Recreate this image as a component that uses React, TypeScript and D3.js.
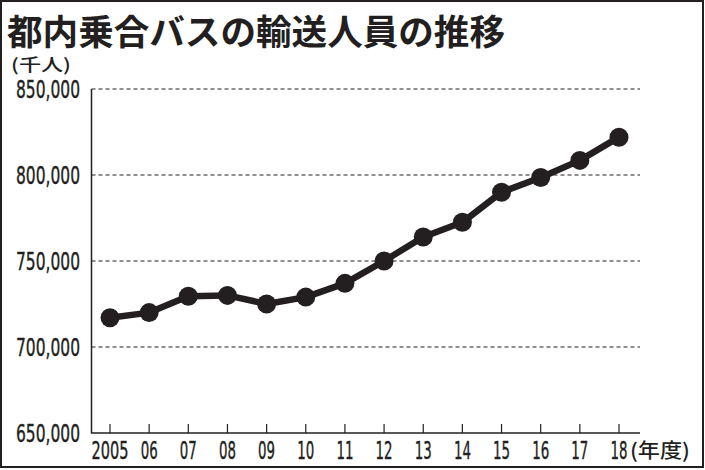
import React from "react";
import * as d3 from "d3";

const years = ["2005", "06", "07", "08", "09", "10", "11", "12", "13", "14", "15", "16", "17", "18"];
const riders = [717000, 720000, 729500, 730000, 725000, 729000, 737000, 750000, 764000, 772500, 790000, 798500, 808500, 822000];
const yTicks = [650000, 700000, 750000, 800000, 850000];

const W = 705;
const H = 470;
const INK = "#231f20";

export default function App() {
  const left = 91.5;
  const right = 640;
  const top = 89;
  const bottom = 433;
  const x = d3.scalePoint<string>().domain(years).range([110, 619]);
  const y = d3.scaleLinear().domain([650000, 850000]).range([bottom, top]);
  const fmt = d3.format(",");
  const line = d3
    .line<number>()
    .x((_, i) => x(years[i]) as number)
    .y((d) => y(d));
  const numFont = "'Liberation Sans Narrow', 'DejaVu Sans Condensed', 'Liberation Sans', Arial, sans-serif";
  const jpFont = "'Noto Sans CJK JP', 'Noto Sans', sans-serif";

  return (
    <svg
      width={W}
      height={H}
      viewBox={`0 0 ${W} ${H}`}
      style={{ position: "fixed", left: 0, top: 0, background: "#fff" }}
    >
      <rect x={0} y={0} width={W} height={H} fill="#fff" />
      <rect x={1} y={1} width={702} height={466} fill="none" stroke={INK} strokeWidth={2} />
      <text x={7} y={45} fontFamily={jpFont} fontWeight={700} fontSize={35.5} fill={INK} textLength={498} lengthAdjust="spacingAndGlyphs">
        都内乗合バスの輸送人員の推移
      </text>
      <text x={11} y={71} fontFamily={jpFont} fontWeight={500} fontSize={17} fill={INK} textLength={60} lengthAdjust="spacingAndGlyphs">
        (千人)
      </text>
      {yTicks.slice(1).map((t) => (
        <line key={t} x1={left} x2={right} y1={y(t)} y2={y(t)} stroke={INK} strokeWidth={1} strokeDasharray="4 3" />
      ))}
      {yTicks.map((t) => (
        <text
          key={"l" + t}
          x={80}
          y={y(t) + 9}
          textAnchor="end"
          fontFamily={numFont}
          fontSize={25}
          fill={INK}
          stroke={INK}
          strokeWidth={0.4}
          textLength={64}
          lengthAdjust="spacingAndGlyphs"
        >
          {fmt(t)}
        </text>
      ))}
      <line x1={left} x2={left} y1={top} y2={bottom + 0.5} stroke={INK} strokeWidth={1.5} />
      <line x1={left} x2={right} y1={bottom} y2={bottom} stroke={INK} strokeWidth={1.5} />
      {years.map((yr) => (
        <line key={"t" + yr} x1={x(yr)} x2={x(yr)} y1={bottom} y2={bottom - 9} stroke={INK} strokeWidth={1.2} />
      ))}
      {years.map((yr) => (
        <text
          key={"x" + yr}
          x={x(yr)}
          y={459}
          textAnchor="middle"
          fontFamily={numFont}
          fontSize={25}
          fill={INK}
          stroke={INK}
          strokeWidth={0.4}
          textLength={yr.length === 4 ? 37 : 17}
          lengthAdjust="spacingAndGlyphs"
        >
          {yr}
        </text>
      ))}
      <text x={630} y={458} fontFamily={jpFont} fontWeight={500} fontSize={20} fill={INK} textLength={60} lengthAdjust="spacingAndGlyphs">
        (年度)
      </text>
      <path d={line(riders) ?? ""} fill="none" stroke={INK} strokeWidth={6.5} strokeLinejoin="round" />
      {riders.map((v, i) => (
        <circle key={"c" + i} cx={x(years[i])} cy={y(v)} r={9.5} fill={INK} />
      ))}
    </svg>
  );
}
